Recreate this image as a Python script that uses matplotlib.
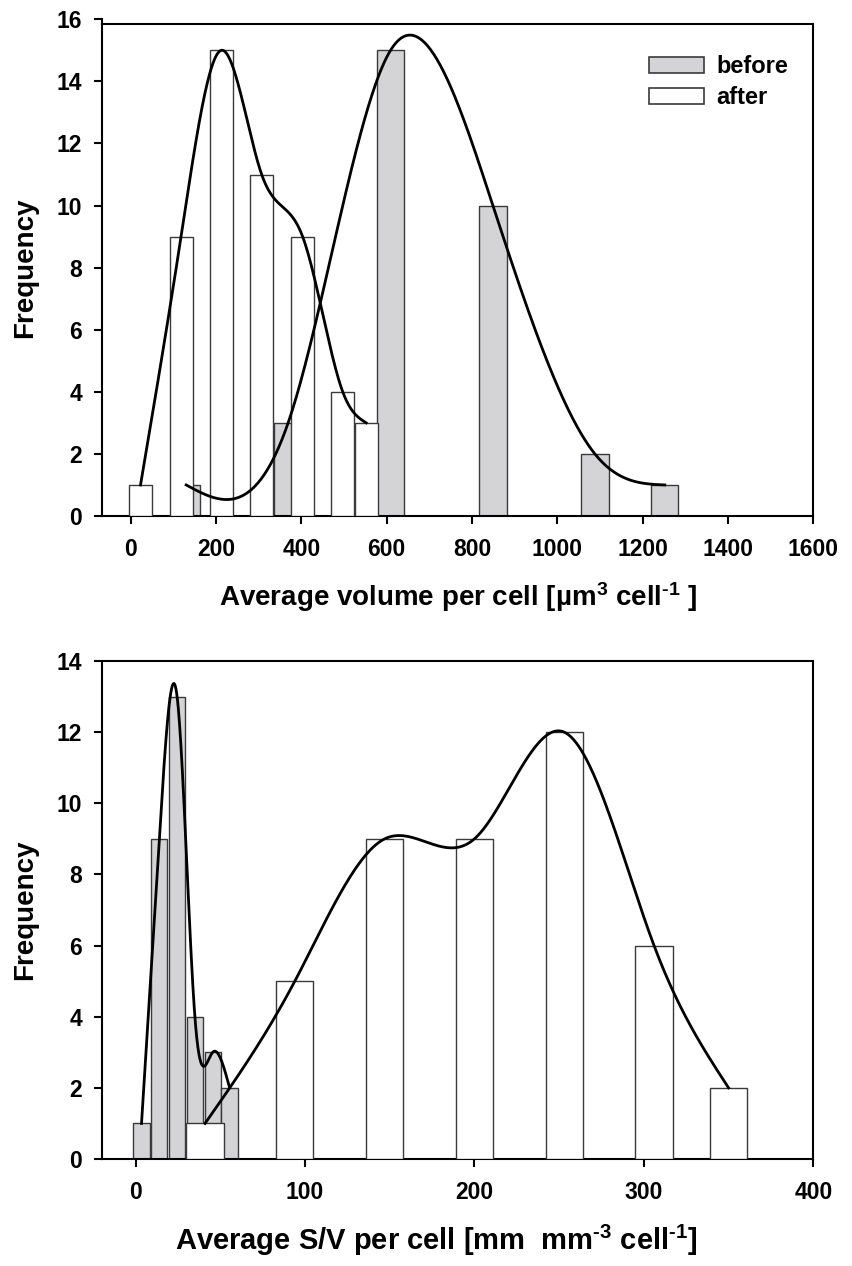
import numpy as np
import matplotlib
matplotlib.use("Agg")
import matplotlib.pyplot as plt
from matplotlib.patches import Patch

plt.rcParams['font.family'] = ['Liberation Sans', 'DejaVu Sans']
plt.rcParams['font.weight'] = 'bold'
plt.rcParams['mathtext.fontset'] = 'custom'
plt.rcParams['mathtext.rm'] = 'Liberation Sans:bold'
plt.rcParams['mathtext.bf'] = 'Liberation Sans:bold'
plt.rcParams['mathtext.it'] = 'Liberation Sans:bold'
plt.rcParams['mathtext.default'] = 'rm'

# ---------------- data ----------------
# Top panel: average volume per cell
vol_before_x = [130, 369, 609, 849, 1088, 1252]
vol_before_n = [1, 3, 15, 10, 2, 1]
vol_after_x = [23, 118, 212, 307, 403, 497, 552]
vol_after_n = [1, 9, 15, 11, 9, 4, 3]
vol_xticks = [0, 200, 400, 600, 800, 1000, 1200, 1400, 1600]
vol_yticks = [0, 2, 4, 6, 8, 10, 12, 14, 16]

# Bottom panel: average S/V per cell
sv_before_x = [3.5, 14, 24.5, 35, 45.5, 55.5]
sv_before_n = [1, 9, 13, 4, 3, 2]
sv_after_x = [41, 94, 147, 200, 253, 306, 350]
sv_after_n = [1, 5, 9, 9, 12, 6, 2]
sv_xticks = [0, 100, 200, 300, 400]
sv_yticks = [0, 2, 4, 6, 8, 10, 12, 14]

series_labels = ['before', 'after']

GRAY = '#d4d4d6'
EDGE = '#3a3a3a'


def natural_spline(x, y, n=400):
    x = np.asarray(x, float)
    y = np.asarray(y, float)
    m = len(x)
    h = np.diff(x)
    A = np.zeros((m, m))
    b = np.zeros(m)
    A[0, 0] = 1
    A[-1, -1] = 1
    for i in range(1, m - 1):
        A[i, i - 1] = h[i - 1]
        A[i, i] = 2 * (h[i - 1] + h[i])
        A[i, i + 1] = h[i]
        b[i] = 3 * ((y[i + 1] - y[i]) / h[i] - (y[i] - y[i - 1]) / h[i - 1])
    c = np.linalg.solve(A, b)
    bc = (y[1:] - y[:-1]) / h - h * (2 * c[:-1] + c[1:]) / 3
    d = (c[1:] - c[:-1]) / (3 * h)
    xs = np.linspace(x[0], x[-1], n)
    idx = np.clip(np.searchsorted(x, xs) - 1, 0, m - 2)
    dx = xs - x[idx]
    ys = y[idx] + bc[idx] * dx + c[idx] * dx ** 2 + d[idx] * dx ** 3
    return xs, ys


fig = plt.figure(figsize=(8.53, 12.66), dpi=100)
W, H = 853.0, 1266.0

TICK_FS = 16.5
LABEL_FS = 20


def style_axes(ax):
    ax.tick_params(axis='both', direction='out', length=5.5, width=1.5,
                   labelsize=TICK_FS, colors='black')
    ax.tick_params(axis='y', pad=8.5)
    ax.tick_params(axis='x', pad=10.5)
    for s in ax.spines.values():
        s.set_linewidth(1.5)
    for lab in ax.get_xticklabels() + ax.get_yticklabels():
        lab.set_fontweight('bold')


# ---------------- top panel ----------------
ax1 = fig.add_axes([101.7 / W, 1 - 516 / H, (813.3 - 101.7) / W, (516 - 19.3) / H])
ax1.bar(vol_before_x, vol_before_n, width=64, color=GRAY, edgecolor=EDGE,
        linewidth=1.0, zorder=2)
ax1.bar(vol_after_x, vol_after_n, width=54, color='white', edgecolor=EDGE,
        linewidth=1.0, zorder=3)
xs, ys = natural_spline(vol_after_x, vol_after_n)
ax1.plot(xs, ys, color='black', lw=2.0, zorder=5)
xs, ys = natural_spline(vol_before_x, vol_before_n)
ax1.plot(xs, ys, color='black', lw=2.0, zorder=5)

ax1.set_xlim(-68, 1600)
ax1.set_ylim(0, 16)
ax1.set_xticks(vol_xticks)
ax1.set_yticks(vol_yticks)
ax1.spines['top'].set_visible(False)
ax1.spines['right'].set_visible(False)
ax1.plot([-68, 1600], [15.85, 15.85], color='black', lw=1.5, clip_on=False, zorder=6)
ax1.plot([1600, 1600], [0, 15.85], color='black', lw=1.5, clip_on=False, zorder=6)
style_axes(ax1)

ax1.set_ylabel('Frequency', fontsize=LABEL_FS, fontweight='bold')
ax1.yaxis.set_label_coords(-0.090, 0.5)
ax1.set_xlabel('Average volume per cell [µm$^{3}$ cell$^{\u20101}$ ]',
               fontsize=LABEL_FS, fontweight='bold')
ax1.xaxis.label.set_ha('left')
ax1.xaxis.set_label_coords((219 - 101.7) / 711.6, -0.129)

leg = ax1.legend(handles=[Patch(facecolor=GRAY, edgecolor=EDGE, linewidth=1.2),
                          Patch(facecolor='white', edgecolor=EDGE, linewidth=1.2)],
                 labels=series_labels, loc='upper left',
                 bbox_to_anchor=((649.3 - 101.7) / 711.6, (516 - 55) / 496.7),
                 frameon=False, fontsize=17, handlelength=2.3, handleheight=0.64,
                 handletextpad=0.55, labelspacing=0.34, borderpad=0, borderaxespad=0)
for t in leg.get_texts():
    t.set_fontweight('bold')

# ---------------- bottom panel ----------------
ax2 = fig.add_axes([101.7 / W, 1 - 1159 / H, (813.3 - 101.7) / W, (1159 - 661) / H])
ax2.bar(sv_before_x, sv_before_n, width=9.6, color=GRAY, edgecolor=EDGE,
        linewidth=1.0, zorder=2)
ax2.bar(sv_after_x, sv_after_n, width=22, color='white', edgecolor=EDGE,
        linewidth=1.0, zorder=3)
xs, ys = natural_spline(sv_before_x, sv_before_n)
ax2.plot(xs, ys, color='black', lw=2.0, zorder=5)
xs, ys = natural_spline(sv_after_x, sv_after_n)
ax2.plot(xs, ys, color='black', lw=2.0, zorder=5)

ax2.set_xlim(-20, 400)
ax2.set_ylim(0, 14)
ax2.set_xticks(sv_xticks)
ax2.set_yticks(sv_yticks)
style_axes(ax2)

ax2.set_ylabel('Frequency', fontsize=LABEL_FS, fontweight='bold')
ax2.yaxis.set_label_coords(-0.090, 0.5)
ax2.set_xlabel('Average S/V per cell [mm  mm$^{\u20103}$ cell$^{\u20101}$]',
               fontsize=LABEL_FS + 1, fontweight='bold')
ax2.xaxis.label.set_ha('left')
ax2.xaxis.set_label_coords((175 - 101.7) / 711.6, -0.1285)

fig.savefig('out.png', dpi=100)
